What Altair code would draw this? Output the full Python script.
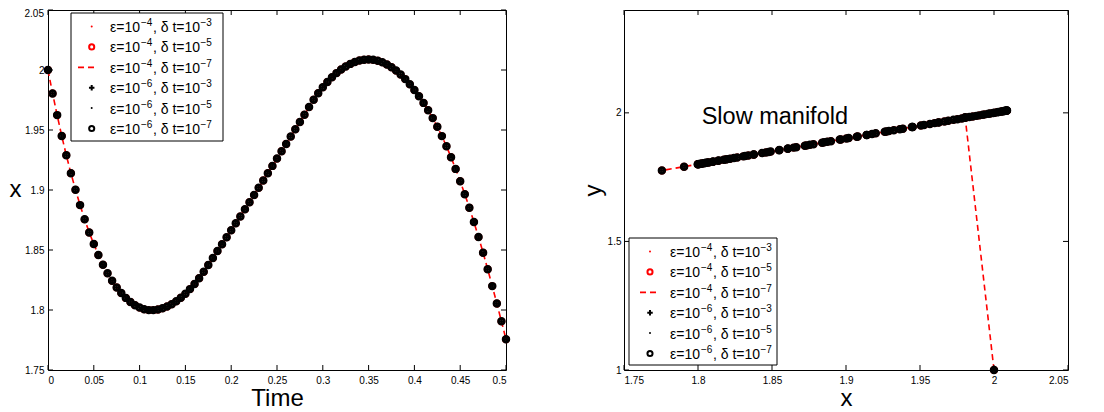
import altair as alt
import pandas as pd

# ---------------- data ----------------
t_vals = [
    0.000, 0.005, 0.010, 0.015, 0.020, 0.025, 0.030, 0.035, 0.040, 0.045,
    0.050, 0.055, 0.060, 0.065, 0.070, 0.075, 0.080, 0.085, 0.090, 0.095,
    0.100, 0.105, 0.110, 0.115, 0.120, 0.125, 0.130, 0.135, 0.140, 0.145,
    0.150, 0.155, 0.160, 0.165, 0.170, 0.175, 0.180, 0.185, 0.190, 0.195,
    0.200, 0.205, 0.210, 0.215, 0.220, 0.225, 0.230, 0.235, 0.240, 0.245,
    0.250, 0.255, 0.260, 0.265, 0.270, 0.275, 0.280, 0.285, 0.290, 0.295,
    0.300, 0.305, 0.310, 0.315, 0.320, 0.325, 0.330, 0.335, 0.340, 0.345,
    0.350, 0.355, 0.360, 0.365, 0.370, 0.375, 0.380, 0.385, 0.390, 0.395,
    0.400, 0.405, 0.410, 0.415, 0.420, 0.425, 0.430, 0.435, 0.440, 0.445,
    0.450, 0.455, 0.460, 0.465, 0.470, 0.475, 0.480, 0.485, 0.490, 0.495,
    0.500,
]
x_vals = [
    2.0000, 1.9805, 1.9624, 1.9450, 1.9290, 1.9140, 1.9003, 1.8874, 1.8756, 1.8646,
    1.8550, 1.8458, 1.8378, 1.8306, 1.8243, 1.8188, 1.8141, 1.8101, 1.8067, 1.8040,
    1.8020, 1.8006, 1.7999, 1.7999, 1.8004, 1.8014, 1.8029, 1.8048, 1.8072, 1.8102,
    1.8135, 1.8174, 1.8217, 1.8265, 1.8318, 1.8375, 1.8433, 1.8491, 1.8548, 1.8606,
    1.8664, 1.8722, 1.8780, 1.8839, 1.8898, 1.8958, 1.9018, 1.9079, 1.9140, 1.9201,
    1.9262, 1.9323, 1.9384, 1.9445, 1.9506, 1.9567, 1.9628, 1.9691, 1.9753, 1.9807,
    1.9856, 1.9900, 1.9939, 1.9974, 2.0004, 2.0030, 2.0051, 2.0067, 2.0079, 2.0086,
    2.0088, 2.0085, 2.0077, 2.0064, 2.0046, 2.0023, 1.9995, 1.9962, 1.9924, 1.9881,
    1.9833, 1.9782, 1.9726, 1.9665, 1.9599, 1.9527, 1.9449, 1.9364, 1.9273, 1.9176,
    1.9073, 1.8965, 1.8852, 1.8733, 1.8608, 1.8477, 1.8340, 1.8199, 1.8054, 1.7906,
    1.7756,
]
y_vals = [
    1.0000, 1.9830, 1.9628, 1.9453, 1.9292, 1.9142, 1.9005, 1.8876, 1.8758, 1.8648,
    1.8552, 1.8460, 1.8380, 1.8308, 1.8245, 1.8190, 1.8143, 1.8103, 1.8069, 1.8042,
    1.8022, 1.8008, 1.8001, 1.8001, 1.8006, 1.8016, 1.8031, 1.8050, 1.8074, 1.8104,
    1.8137, 1.8176, 1.8219, 1.8267, 1.8320, 1.8377, 1.8435, 1.8493, 1.8550, 1.8608,
    1.8666, 1.8724, 1.8782, 1.8841, 1.8900, 1.8960, 1.9020, 1.9081, 1.9142, 1.9203,
    1.9264, 1.9325, 1.9386, 1.9447, 1.9508, 1.9569, 1.9630, 1.9693, 1.9755, 1.9809,
    1.9858, 1.9902, 1.9941, 1.9976, 2.0006, 2.0032, 2.0053, 2.0069, 2.0081, 2.0088,
    2.0090, 2.0087, 2.0079, 2.0066, 2.0048, 2.0025, 1.9997, 1.9964, 1.9926, 1.9883,
    1.9835, 1.9784, 1.9728, 1.9667, 1.9601, 1.9529, 1.9451, 1.9366, 1.9275, 1.9178,
    1.9075, 1.8967, 1.8854, 1.8735, 1.8610, 1.8479, 1.8342, 1.8201, 1.8056, 1.7908,
    1.7758,
]

left_xticks = [0, 0.05, 0.1, 0.15, 0.2, 0.25, 0.3, 0.35, 0.4, 0.45, 0.5]
left_yticks = [1.75, 1.8, 1.85, 1.9, 1.95, 2.0, 2.05]
right_xticks = [1.75, 1.8, 1.85, 1.9, 1.95, 2.0, 2.05]
right_yticks = [1.0, 1.5, 2.0]

eps_exp = ["\u22124", "\u22124", "\u22124", "\u22126", "\u22126", "\u22126"]
dt_exp = ["\u22123", "\u22125", "\u22127", "\u22123", "\u22125", "\u22127"]

annotation = ["Slow manifold"]
annotation_x = [1.8025]
annotation_y = [1.957]

# ---------------- styling ----------------
FONT = "Liberation Sans"
RED = "#ff0000"
BLK = "#000000"
W1, W2, H = 458, 444, 360
TK = 5

df = pd.DataFrame({"t": t_vals, "x": x_vals, "y": y_vals})
one = pd.DataFrame({"a": [0]})


def mk_axis(vals, title, **kw):
    return alt.Axis(values=vals, format="~g", title=title, ticks=False, domain=False,
                    grid=False, labelFont=FONT, labelFontSize=10, labelColor=BLK,
                    titleFont=FONT, titleFontSize=24, titleFontWeight="normal",
                    titleColor=BLK, **kw)


def series_layers(base, X, Y, order=None):
    enc = dict(x=X, y=Y)
    if order is not None:
        enc["order"] = order
    return [
        base.mark_point(shape="circle", filled=True, color=RED, size=5, opacity=1).encode(**enc),
        base.mark_point(shape="circle", filled=False, color=RED, size=36, strokeWidth=1.8,
                        opacity=1).encode(**enc),
        base.mark_line(color=RED, strokeDash=[6, 4], strokeWidth=1.6).encode(**enc),
        base.mark_point(shape="M-1,0L1,0M0,-1L0,1", filled=False, color=BLK, size=36,
                        strokeWidth=1.5, opacity=1).encode(**enc),
        base.mark_point(shape="circle", filled=True, color=BLK, size=5, opacity=1).encode(**enc),
        base.mark_point(shape="circle", filled=False, color=BLK, size=30, strokeWidth=3,
                        opacity=1).encode(**enc),
    ]


def tick_layers(xfield, xvals, X, yfield, yvals, Y, w):
    xt = pd.DataFrame({xfield: xvals})
    yt = pd.DataFrame({yfield: yvals})
    return [
        alt.Chart(xt).mark_rule(color=BLK, strokeWidth=1).encode(x=X, y=alt.value(H), y2=alt.value(H - TK)),
        alt.Chart(xt).mark_rule(color=BLK, strokeWidth=1).encode(x=X, y=alt.value(0), y2=alt.value(TK)),
        alt.Chart(yt).mark_rule(color=BLK, strokeWidth=1).encode(y=Y, x=alt.value(0), x2=alt.value(TK)),
        alt.Chart(yt).mark_rule(color=BLK, strokeWidth=1).encode(y=Y, x=alt.value(w), x2=alt.value(w - TK)),
    ]


def legend_layers(bx, by, bw, bh, sym_dx, dash0, dash1, text_dx):
    layers = [alt.Chart(one).mark_rect(fill="white", stroke=BLK, strokeWidth=1).encode(
        x=alt.value(bx), x2=alt.value(bx + bw), y=alt.value(by), y2=alt.value(by + bh))]
    cx = bx + sym_dx
    tx = bx + text_dx
    for i in range(6):
        ry = by + 13.5 + 20.4 * i
        if i == 0:
            layers.append(alt.Chart(one).mark_point(shape="circle", filled=True, color=RED, size=4,
                                                    opacity=1).encode(x=alt.value(cx), y=alt.value(ry)))
        elif i == 1:
            layers.append(alt.Chart(one).mark_point(shape="circle", filled=False, color=RED, size=26,
                                                    strokeWidth=2, opacity=1).encode(x=alt.value(cx), y=alt.value(ry)))
        elif i == 2:
            layers.append(alt.Chart(one).mark_rule(color=RED, strokeDash=[6, 4], strokeWidth=1.8).encode(
                x=alt.value(bx + dash0), x2=alt.value(bx + dash1), y=alt.value(ry)))
        elif i == 3:
            layers.append(alt.Chart(one).mark_point(shape="M-1,0L1,0M0,-1L0,1", filled=False, color=BLK,
                                                    size=30, strokeWidth=2, opacity=1).encode(
                x=alt.value(cx), y=alt.value(ry)))
        elif i == 4:
            layers.append(alt.Chart(one).mark_point(shape="circle", filled=True, color=BLK, size=4,
                                                    opacity=1).encode(x=alt.value(cx), y=alt.value(ry)))
        else:
            layers.append(alt.Chart(one).mark_point(shape="circle", filled=False, color=BLK, size=26,
                                                    strokeWidth=2, opacity=1).encode(x=alt.value(cx), y=alt.value(ry)))
        row = pd.DataFrame({"b1": ["\u03b5=10"], "e": [eps_exp[i]], "b2": [", \u03b4 t=10"], "d": [dt_exp[i]]})
        base = alt.Chart(row)
        layers += [
            base.mark_text(font=FONT, fontSize=14, align="left", baseline="middle", color=BLK).encode(
                text="b1:N", x=alt.value(tx), y=alt.value(ry + 1.5)),
            base.mark_text(font=FONT, fontSize=10, align="left", baseline="middle", color=BLK).encode(
                text="e:N", x=alt.value(tx + 31), y=alt.value(ry - 3.5)),
            base.mark_text(font=FONT, fontSize=14, align="left", baseline="middle", color=BLK).encode(
                text="b2:N", x=alt.value(tx + 43), y=alt.value(ry + 1.5)),
            base.mark_text(font=FONT, fontSize=10, align="left", baseline="middle", color=BLK).encode(
                text="d:N", x=alt.value(tx + 90.5), y=alt.value(ry - 3.5)),
        ]
    return layers


# ---------------- left panel: x(t) ----------------
XL = alt.X("t:Q", scale=alt.Scale(domain=[0, 0.5], nice=False, zero=False),
           axis=mk_axis(left_xticks, "Time", labelPadding=5, titlePadding=1))
YL = alt.Y("x:Q", scale=alt.Scale(domain=[1.75, 2.05], nice=False, zero=False),
           axis=mk_axis(left_yticks[:-1], "x", labelPadding=4, titleAngle=0, titleAlign="left",
                        titleBaseline="middle", titleX=-39, titleY=H / 2 - 1))

top_label = pd.DataFrame({"x": [left_yticks[-1]], "s": ["2.05"]})
left_layers = series_layers(alt.Chart(df), XL, YL)
left_layers += tick_layers("t", left_xticks, XL, "x", left_yticks, YL, W1)
left_layers.append(alt.Chart(top_label).mark_text(font=FONT, fontSize=10, align="right", baseline="top",
                                                  dy=-1, color=BLK).encode(
    y=YL, x=alt.value(-4), text="s:N"))
left_layers += legend_layers(23, 3, 152, 128, 20.7, 7, 26, 39)
left = alt.layer(*left_layers).properties(width=W1, height=H)

# ---------------- right panel: (x, y) phase plane ----------------
XR = alt.X("x:Q", scale=alt.Scale(domain=[1.75, 2.05], nice=False, zero=False),
           axis=mk_axis(right_xticks, "x", labelPadding=5, titlePadding=1))
YR = alt.Y("y:Q", scale=alt.Scale(domain=[1.0, 2.4], nice=False, zero=False),
           axis=mk_axis(right_yticks, "y", labelPadding=3, titlePadding=2))

ann = pd.DataFrame({"x": annotation_x, "y": annotation_y, "s": annotation})
right_layers = series_layers(alt.Chart(df), XR, YR, order=alt.Order("t:Q"))
right_layers += tick_layers("x", right_xticks, XR, "y", right_yticks, YR, W2)
right_layers.append(alt.Chart(ann).mark_text(font=FONT, fontSize=23.5, align="left", baseline="alphabetic",
                                             color=BLK).encode(x=XR, y=YR, text="s:N"))
right_layers += legend_layers(5, H - 5 - 127, 148, 127, 21, 11, 28, 41)
right = alt.layer(*right_layers).properties(width=W2, height=H)

chart = alt.hconcat(left, right, spacing=64).properties(
    padding={"left": 0, "top": 0, "right": 0, "bottom": 0},
    background="white",
).configure_view(stroke=BLK, strokeWidth=1)

chart.save("out.html", embed_options={"renderer": "svg", "actions": False})
